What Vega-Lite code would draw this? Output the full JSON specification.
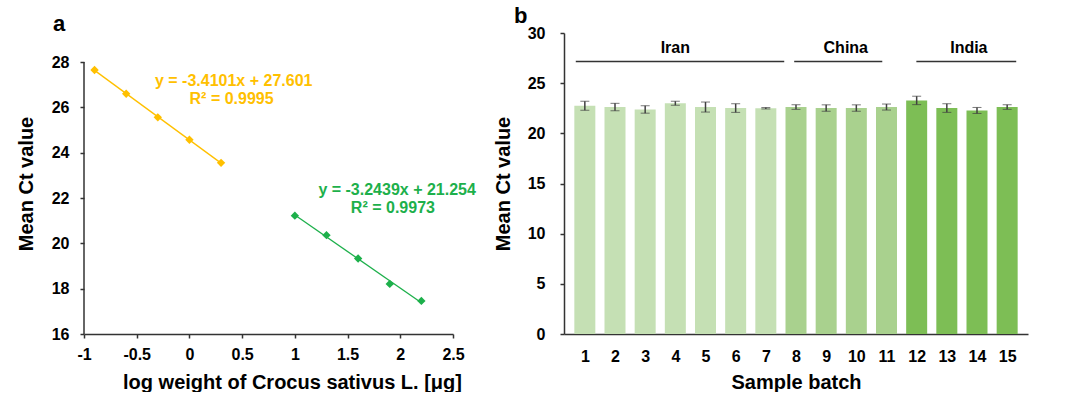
{
  "$schema": "https://vega.github.io/schema/vega-lite/v6.json",
  "background": "white",
  "padding": {"left": 16, "top": 5, "right": 5, "bottom": 0},
  "bounds": "flush",
  "spacing": 111,
  "resolve": {"scale": {"color": "independent"}},
  "config": {
    "font": "Liberation Sans",
    "view": {"stroke": null},
    "axis": {
      "labelFont": "Liberation Sans", "labelFontWeight": "bold", "labelFontSize": 16, "labelColor": "black",
      "titleFont": "Liberation Sans", "titleFontWeight": "bold", "titleFontSize": 20, "titleColor": "black",
      "domainColor": "#333333", "tickColor": "#333333", "domainWidth": 1.5, "tickWidth": 1.5, "tickSize": 4, "grid": false,
      "labelOverlap": false
    },
    "title": {"font": "Liberation Sans", "fontWeight": "bold", "fontSize": 22, "color": "black"}
  },
  "datasets": {
    "calib": [
      {"series": "Series 1", "logw": -0.9, "ct": 27.65},
      {"series": "Series 1", "logw": -0.6, "ct": 26.6},
      {"series": "Series 1", "logw": -0.3, "ct": 25.56},
      {"series": "Series 1", "logw": 0.0, "ct": 24.57},
      {"series": "Series 1", "logw": 0.3, "ct": 23.55},
      {"series": "Series 2", "logw": 1.0, "ct": 21.22},
      {"series": "Series 2", "logw": 1.3, "ct": 20.36},
      {"series": "Series 2", "logw": 1.6, "ct": 19.33},
      {"series": "Series 2", "logw": 1.9, "ct": 18.21},
      {"series": "Series 2", "logw": 2.2, "ct": 17.46}
    ],
    "eqs": [
      {"series": "Series 1", "text": "y = -3.4101x + 27.601", "x": 0.42, "y": 27.15},
      {"series": "Series 1", "text": "R² = 0.9995", "x": 0.40, "y": 26.37},
      {"series": "Series 2", "text": "y = -3.2439x + 21.254", "x": 1.97, "y": 22.35},
      {"series": "Series 2", "text": "R² = 0.9973", "x": 1.93, "y": 21.56}
    ],
    "batches": [
      {"batch": 1, "origin": "Iran", "ct": 22.75, "sd": 0.45},
      {"batch": 2, "origin": "Iran", "ct": 22.62, "sd": 0.37},
      {"batch": 3, "origin": "Iran", "ct": 22.38, "sd": 0.37},
      {"batch": 4, "origin": "Iran", "ct": 23.0, "sd": 0.2},
      {"batch": 5, "origin": "Iran", "ct": 22.62, "sd": 0.5},
      {"batch": 6, "origin": "Iran", "ct": 22.52, "sd": 0.43},
      {"batch": 7, "origin": "Iran", "ct": 22.5, "sd": 0.07},
      {"batch": 8, "origin": "China", "ct": 22.62, "sd": 0.23},
      {"batch": 9, "origin": "China", "ct": 22.52, "sd": 0.32},
      {"batch": 10, "origin": "China", "ct": 22.52, "sd": 0.32},
      {"batch": 11, "origin": "China", "ct": 22.62, "sd": 0.3},
      {"batch": 12, "origin": "India", "ct": 23.28, "sd": 0.42},
      {"batch": 13, "origin": "India", "ct": 22.52, "sd": 0.43},
      {"batch": 14, "origin": "India", "ct": 22.28, "sd": 0.3},
      {"batch": 15, "origin": "India", "ct": 22.62, "sd": 0.23}
    ],
    "groups": [
      {"origin": "Iran", "start": 0.7, "end": 7.61, "labelx": 4.0},
      {"origin": "China", "start": 7.94, "end": 10.86, "labelx": 9.65},
      {"origin": "India", "start": 11.99, "end": 15.3, "labelx": 13.73}
    ]
  },
  "hconcat": [
    {
      "width": 369,
      "height": 301,
      "title": {"text": "a", "anchor": "start", "frame": "group", "dx": -31, "offset": -3},
      "layer": [
        {
          "data": {"values": [{"x": -1, "y": 16, "y2": 28}]},
          "mark": {"type": "rule", "color": "#333333", "strokeWidth": 1.5},
          "encoding": {
            "x": {"field": "x", "type": "quantitative", "scale": {"domain": [-1, 2.5], "nice": false, "zero": false}},
            "y": {"field": "y", "type": "quantitative", "scale": {"domain": [16, 29.28], "nice": false, "zero": false}},
            "y2": {"field": "y2"}
          }
        },
        {
          "data": {"name": "calib"},
          "transform": [{"regression": "ct", "on": "logw", "groupby": ["series"]}],
          "mark": {"type": "line", "strokeWidth": 1.3},
          "encoding": {
            "x": {"field": "logw", "type": "quantitative",
              "scale": {"domain": [-1, 2.5], "nice": false, "zero": false},
              "axis": {"values": [-1, -0.5, 0, 0.5, 1, 1.5, 2, 2.5], "labelExpr": "'' + datum.value", "labelPadding": 8, "titlePadding": 10, "labelFlush": false, "titleX": 208},
              "title": "log weight of  Crocus sativus L.  [μg]"},
            "y": {"field": "ct", "type": "quantitative",
              "scale": {"domain": [16, 29.28], "nice": false, "zero": false},
              "axis": {"values": [16, 18, 20, 22, 24, 26, 28], "domain": false, "labelPadding": 11, "titlePadding": 15},
              "title": "Mean Ct value"},
            "color": {"field": "series", "type": "nominal", "scale": {"domain": ["Series 1", "Series 2"], "range": ["#FFC000", "#1DB04B"]}, "legend": null}
          }
        },
        {
          "data": {"name": "calib"},
          "mark": {"type": "point", "shape": "diamond", "filled": true, "size": 70, "opacity": 1},
          "encoding": {
            "x": {"field": "logw", "type": "quantitative"},
            "y": {"field": "ct", "type": "quantitative"},
            "color": {"field": "series", "type": "nominal", "legend": null}
          }
        },
        {
          "data": {"name": "eqs"},
          "mark": {"type": "text", "fontWeight": "bold", "fontSize": 16, "align": "center", "baseline": "middle"},
          "encoding": {
            "x": {"field": "x", "type": "quantitative"},
            "y": {"field": "y", "type": "quantitative"},
            "text": {"field": "text"},
            "color": {"field": "series", "type": "nominal", "legend": null}
          }
        }
      ]
    },
    {
      "width": 464,
      "height": 301,
      "title": {"text": "b", "anchor": "start", "frame": "group", "dx": -50, "offset": -3},
      "layer": [
        {
          "data": {"name": "batches"},
          "mark": {"type": "bar", "width": 21},
          "encoding": {
            "x": {"field": "batch", "type": "quantitative",
              "scale": {"domain": [0.475, 15.525], "nice": false, "zero": false},
              "axis": {"values": [1,2,3,4,5,6,7,8,9,10,11,12,13,14,15], "ticks": false, "labelPadding": 14, "titlePadding": 8, "labelExpr": "'' + datum.value", "labelOverlap": false, "labelFlush": false},
              "title": "Sample batch"},
            "y": {"field": "ct", "type": "quantitative",
              "scale": {"domain": [0, 30], "nice": false},
              "axis": {"values": [0, 5, 10, 15, 20, 25, 30], "labelPadding": 15, "titlePadding": 14},
              "title": "Mean Ct value"},
            "color": {"field": "origin", "type": "nominal", "scale": {"domain": ["Iran", "China", "India"], "range": ["#C5E0B4", "#A9D18E", "#7DBE55"]}, "legend": null}
          }
        },
        {
          "data": {"name": "batches"},
          "mark": {"type": "errorbar", "ticks": {"size": 9, "color": "#404040", "strokeWidth": 1.5}, "rule": {"color": "#404040", "strokeWidth": 1.5}},
          "encoding": {
            "x": {"field": "batch", "type": "quantitative",
              "axis": {"values": [1,2,3,4,5,6,7,8,9,10,11,12,13,14,15], "ticks": false, "labelPadding": 14, "titlePadding": 8, "labelExpr": "'' + datum.value", "labelOverlap": false, "labelFlush": false},
              "title": "Sample batch"},
            "y": {"field": "ct", "type": "quantitative",
              "axis": {"values": [0, 5, 10, 15, 20, 25, 30], "labelPadding": 15, "titlePadding": 14},
              "title": "Mean Ct value"},
            "yError": {"field": "sd"}
          }
        },
        {
          "data": {"name": "groups"},
          "mark": {"type": "rule", "color": "#333333", "strokeWidth": 1.5},
          "encoding": {
            "x": {"field": "start", "type": "quantitative",
              "axis": {"values": [1,2,3,4,5,6,7,8,9,10,11,12,13,14,15], "ticks": false, "labelPadding": 14, "titlePadding": 8, "labelExpr": "'' + datum.value", "labelOverlap": false, "labelFlush": false},
              "title": "Sample batch"},
            "x2": {"field": "end"},
            "y": {"datum": 27.15, "type": "quantitative",
              "axis": {"values": [0, 5, 10, 15, 20, 25, 30], "labelPadding": 15, "titlePadding": 14},
              "title": "Mean Ct value"}
          }
        },
        {
          "data": {"name": "groups"},
          "mark": {"type": "text", "fontWeight": "bold", "fontSize": 16, "align": "center", "baseline": "middle", "color": "black"},
          "encoding": {
            "x": {"field": "labelx", "type": "quantitative",
              "axis": {"values": [1,2,3,4,5,6,7,8,9,10,11,12,13,14,15], "ticks": false, "labelPadding": 14, "titlePadding": 8, "labelExpr": "'' + datum.value", "labelOverlap": false, "labelFlush": false},
              "title": "Sample batch"},
            "y": {"datum": 28.55, "type": "quantitative",
              "axis": {"values": [0, 5, 10, 15, 20, 25, 30], "labelPadding": 15, "titlePadding": 14},
              "title": "Mean Ct value"},
            "text": {"field": "origin"}
          }
        }
      ]
    }
  ]
}
